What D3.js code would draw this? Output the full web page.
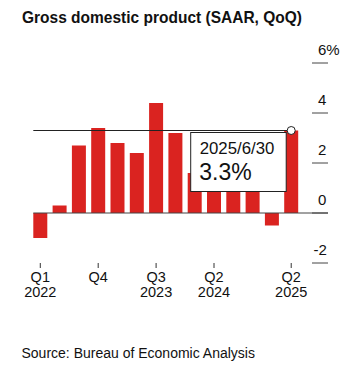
<!DOCTYPE html>
<html>
<head>
<meta charset="utf-8">
<script src="https://cdn.jsdelivr.net/npm/d3@7"></script>
<style>
  body { margin: 0; background: #fff; }
  svg { display: block; font-family: "Liberation Sans", Arial, sans-serif; }
</style>
</head>
<body>
<svg id="gdp" width="353" height="369"></svg>
<script>
// data
var quarters = ['Q1 2022', 'Q2 2022', 'Q3 2022', 'Q4 2022',
  'Q1 2023', 'Q2 2023', 'Q3 2023', 'Q4 2023',
  'Q1 2024', 'Q2 2024', 'Q3 2024', 'Q4 2024',
  'Q1 2025', 'Q2 2025'];
var growth = [-1.0, 0.3, 2.7, 3.4, 2.8, 2.4, 4.4, 3.2, 1.6, 3.0, 3.1, 2.4, -0.5, 3.3];
var xTicks = ['Q1 2022', 'Q4 2022', 'Q3 2023', 'Q2 2024', 'Q2 2025'];
var xTickLabels = [['Q1', '2022'], ['Q4', ''], ['Q3', '2023'], ['Q2', '2024'], ['Q2', '2025']];
var yTicks = [-2, 0, 2, 4, 6];
var lastDate = '2025/6/30';

var svg = d3.select('#gdp');

// scales
var x = d3.scaleBand()
  .domain(quarters)
  .range([33.3, 298.2])
  .paddingInner(0.275)
  .paddingOuter(0);

var y = d3.scaleLinear()
  .domain([-2, 6])
  .range([263, 63]);

// title
svg.append('text')
  .attr('x', 22)
  .attr('y', 23)
  .attr('font-size', 16.5)
  .attr('font-weight', 'bold')
  .attr('fill', '#111')
  .attr('textLength', 280)
  .attr('lengthAdjust', 'spacingAndGlyphs')
  .text('Gross domestic product (SAAR, QoQ)');

// y axis on the right
var yAx = svg.append('g').attr('class', 'y axis');
yAx.selectAll('line')
  .data(yTicks)
  .enter().append('line')
  .attr('x1', 312).attr('x2', 328)
  .attr('y1', function(d) { return y(d); })
  .attr('y2', function(d) { return y(d); })
  .attr('stroke', '#444')
  .attr('stroke-width', 1);
yAx.selectAll('text')
  .data(yTicks)
  .enter().append('text')
  .attr('x', function(d) { return d < 0 ? 313.5 : 318; })
  .attr('y', function(d) { return y(d) - 8; })
  .attr('font-size', 15)
  .attr('fill', '#111')
  .text(function(d) { return d === 6 ? d + '%' : d; });

// bars
svg.selectAll('.bar')
  .data(growth)
  .enter().append('rect')
  .attr('class', 'bar')
  .attr('x', function(d, i) { return x(quarters[i]); })
  .attr('y', function(d) { return y(Math.max(0, d)); })
  .attr('width', x.bandwidth())
  .attr('height', function(d) { return Math.abs(y(d) - y(0)); })
  .attr('fill', '#da2320');

// zero line
svg.append('line')
  .attr('x1', x(quarters[0])).attr('x2', 328)
  .attr('y1', y(0)).attr('y2', y(0))
  .attr('stroke', '#444')
  .attr('stroke-width', 1);

// x axis ticks
var xAx = svg.append('g').attr('class', 'x axis');
xTicks.forEach(function(q, i) {
  var cx = x(q) + x.bandwidth() / 2;
  xAx.append('line')
    .attr('x1', cx).attr('x2', cx)
    .attr('y1', 263).attr('y2', 268)
    .attr('stroke', '#333');
  xAx.append('text')
    .attr('x', cx).attr('y', 282)
    .attr('text-anchor', 'middle')
    .attr('font-size', 14.5)
    .attr('fill', '#111')
    .text(xTickLabels[i][0]);
  xAx.append('text')
    .attr('x', cx).attr('y', 297)
    .attr('text-anchor', 'middle')
    .attr('font-size', 14.5)
    .attr('fill', '#111')
    .text(xTickLabels[i][1]);
});

// hover line + marker at latest value
var last = growth.length - 1;
var px = x(quarters[last]) + x.bandwidth() / 2;
var py = y(growth[last]);

svg.append('line')
  .attr('x1', x(quarters[0])).attr('x2', px)
  .attr('y1', py).attr('y2', py)
  .attr('stroke', '#222')
  .attr('stroke-width', 1);

// tooltip
var tip = svg.append('g')
  .attr('transform', 'translate(' + (px - 101) + ',' + (py + 1.5) + ')');
tip.append('rect')
  .attr('x', 0.5).attr('y', 0.5)
  .attr('width', 95.5).attr('height', 59)
  .attr('fill', '#fff')
  .attr('stroke', '#222')
  .attr('stroke-width', 1);
tip.append('text')
  .attr('x', 9.5).attr('y', 22)
  .attr('font-size', 16.8)
  .attr('fill', '#111')
  .text(lastDate);
tip.append('text')
  .attr('x', 9).attr('y', 47.5)
  .attr('font-size', 23)
  .attr('fill', '#111')
  .text(growth[last].toFixed(1) + '%');

svg.append('circle')
  .attr('cx', px).attr('cy', py)
  .attr('r', 4)
  .attr('fill', '#fff')
  .attr('stroke', '#222')
  .attr('stroke-width', 1);

// source
svg.append('text')
  .attr('x', 21.5)
  .attr('y', 358)
  .attr('font-size', 14)
  .attr('fill', '#111')
  .text('Source: Bureau of Economic Analysis');
</script>
</body>
</html>
